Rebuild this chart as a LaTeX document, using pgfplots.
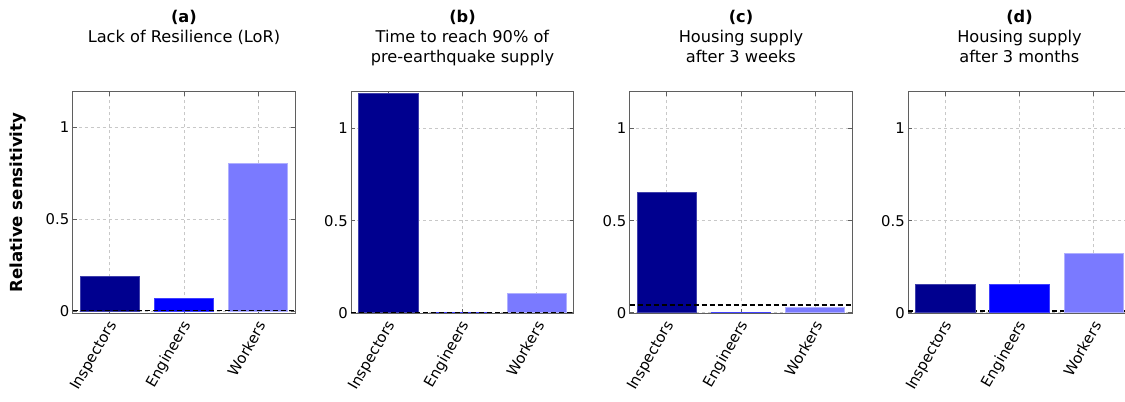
\documentclass[border=0pt]{standalone}
\usepackage{fontspec}
\setmainfont{DejaVu Sans}
\usepackage{pgfplots}
\pgfplotsset{compat=1.18}

\definecolor{inspc}{RGB}{0,0,143}
\definecolor{engc}{RGB}{0,0,255}
\definecolor{workc}{RGB}{122,122,255}
\definecolor{framec}{RGB}{95,95,95}
\definecolor{gridc}{RGB}{200,200,200}

\newcommand{\tickfont}{\fontsize{14.8bp}{17bp}\selectfont}
\newcommand{\titlefont}{\fontsize{16.2bp}{20bp}\selectfont}

\pgfplotsset{
  sens/.style={
    scale only axis, width=222.5bp, height=221.8bp,
    anchor=south west, clip mode=individual,
    xmin=0.5, xmax=3.5, ymin=-0.004, ymax=1.2,
    xtick={1,2,3}, xticklabels={Inspectors,Engineers,Workers},
    ytick={0,0.5,1}, yticklabels={0,0.5,1},
    tick align=inside, tick pos=both, major tick length=4bp,
    axis line style={framec, line width=0.9bp},
    every tick/.style={framec, line width=0.7bp},
    grid=major,
    major grid style={gridc, dash pattern=on 3bp off 3bp, line width=0.7bp},
    xticklabel style={xshift=5.5bp, yshift=-6bp, rotate=60, anchor=east, font=\tickfont},
    yticklabel style={font=\tickfont},
  },
  bar/.style={ybar, bar width=0.8, bar shift=0pt, line width=0.6bp},
  thr/.style={black, line width=1.6bp, dash pattern=on 5bp off 3bp, forget plot},
}
\tikzset{ptitle/.style={anchor=north, align=center, inner sep=0pt, font=\titlefont}}

\begin{document}
\begin{tikzpicture}
% (a) Lack of resilience
\begin{axis}[sens, at={(72.7bp,88.5bp)}, ymin=-0.012, ymax=1.195]
  \addplot[bar, fill=inspc, draw=inspc!75!white] coordinates {(1,0.19)};
  \addplot[bar, fill=engc, draw=engc!75!white] coordinates {(2,0.07)};
  \addplot[bar, fill=workc, draw=workc!60!white] coordinates {(3,0.806)};
  \addplot[thr] coordinates {(0.5,0.004) (3.5,0.004)};
  \node[ptitle] at ([yshift=81.7bp]rel axis cs:0.5,1) {\textbf{(a)}\\Lack of Resilience (LoR)};
  \node[rotate=90, font=\bfseries\fontsize{16.6bp}{19bp}\selectfont] at ([xshift=-54.4bp]rel axis cs:0,0.5) {Relative sensitivity};
\end{axis}
% (b) Time to reach 90% of supply
\begin{axis}[sens, at={(351.2bp,88.5bp)}]
  \addplot[bar, fill=inspc, draw=inspc!75!white] coordinates {(1,1.19)};
  \addplot[bar, fill=engc, draw=engc!75!white] coordinates {(2,0.0)};
  \addplot[bar, fill=workc, draw=workc!60!white] coordinates {(3,0.107)};
  \addplot[thr] coordinates {(0.5,0.002) (3.5,0.002)};
  \node[ptitle] at ([yshift=81.7bp]rel axis cs:0.5,1) {\textbf{(b)}\\Time to reach 90\% of\\pre-earthquake supply};
\end{axis}
% (c) Housing supply after 3 weeks
\begin{axis}[sens, at={(629.7bp,88.5bp)}]
  \addplot[bar, fill=inspc, draw=inspc!75!white] coordinates {(1,0.652)};
  \addplot[bar, fill=engc, draw=engc!75!white] coordinates {(2,0.005)};
  \addplot[bar, fill=workc, draw=workc!60!white] coordinates {(3,0.027)};
  \addplot[thr] coordinates {(0.5,0.042) (3.5,0.042)};
  \node[ptitle] at ([yshift=81.7bp]rel axis cs:0.5,1) {\textbf{(c)}\\Housing supply\\after 3 weeks};
\end{axis}
% (d) Housing supply after 3 months
\begin{axis}[sens, at={(908.2bp,88.5bp)}]
  \addplot[thr] coordinates {(0.5,0.008) (3.5,0.008)};
  \addplot[bar, fill=inspc, draw=inspc!75!white] coordinates {(1,0.152)};
  \addplot[bar, fill=engc, draw=engc!75!white] coordinates {(2,0.152)};
  \addplot[bar, fill=workc, draw=workc!60!white] coordinates {(3,0.323)};
  \node[ptitle] at ([yshift=81.7bp]rel axis cs:0.5,1) {\textbf{(d)}\\Housing supply\\after 3 months};
\end{axis}
\pgfresetboundingbox
\path[use as bounding box] (0,0) rectangle (1125bp,402bp);
\end{tikzpicture}
\end{document}
